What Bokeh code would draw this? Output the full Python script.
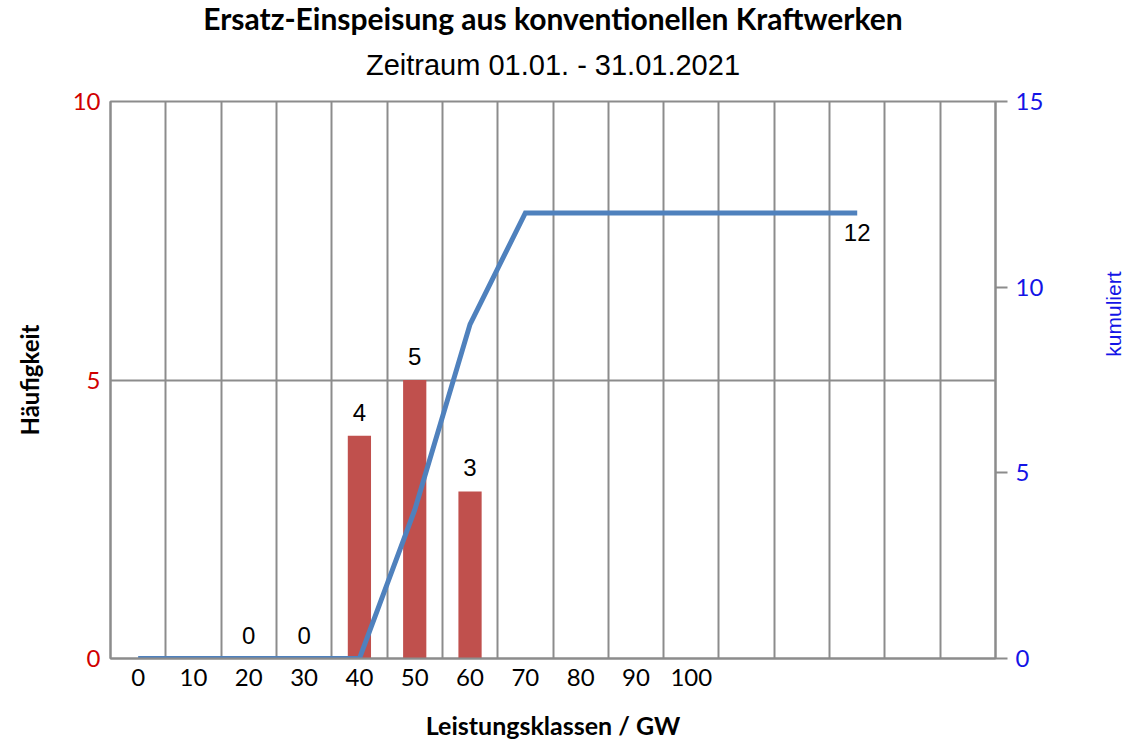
import math
from bokeh.plotting import figure
from bokeh.models import Range1d, LinearAxis, FixedTicker, ColumnDataSource, Title
from bokeh.embed import file_html
from bokeh.resources import INLINE
from bokeh.core.properties import value

# ---- data ----
title_text = "Ersatz-Einspeisung aus konventionellen Kraftwerken"
subtitle_text = "Zeitraum 01.01. - 31.01.2021"
x_title = "Leistungsklassen / GW"
y_title = "Häufigkeit"
y2_title = "kumuliert"

categories = ["0", "10", "20", "30", "40", "50", "60", "70", "80", "90", "100",
              "", "", "", "", ""]
haeufigkeit = [None, None, 0, 0, 4, 5, 3, None, None, None, None,
               None, None, None, None, None]
kumuliert = [0, 0, 0, 0, 0, 4, 9, 12, 12, 12, 12, 12, 12, 12]
y_ticks = [0, 5, 10]
y2_ticks = [0, 5, 10, 15]

# ---- styles ----
GRID = "#8C8C8C"
BAR = "#C0504D"
LINE = "#4F81BD"
RED = "#D00000"
BLUE = "#1414E6"

n = len(categories)
xpos = [i + 0.5 for i in range(n)]

p = figure(width=1139, height=743, output_backend="svg", toolbar_location=None,
           x_range=Range1d(0, n), y_range=Range1d(0, 10),
           min_border_left=110, min_border_right=144,
           min_border_top=100, min_border_bottom=85)
p.extra_y_ranges = {"cum": Range1d(0, 15)}
p.background_fill_color = "white"
p.border_fill_color = "white"
p.outline_line_color = GRID
p.outline_line_width = 2

# titles (first added is closest to plot); blank spacers tune the gaps
p.add_layout(Title(text=" ", text_font_size="1px", standoff=9), "above")
p.add_layout(Title(text=subtitle_text, align="center", text_font="Liberation Sans",
                   text_font_size="29px", text_font_style="normal",
                   text_color="black", standoff=18), "above")
p.add_layout(Title(text=" ", text_font_size="1px", standoff=2), "above")
p.add_layout(Title(text=title_text, align="center", text_font="Lato",
                   text_font_size="30px", text_font_style="bold",
                   text_color="black", standoff=-6), "above")

# grid
p.xgrid.ticker = FixedTicker(ticks=list(range(n + 1)))
p.xgrid.grid_line_color = GRID
p.xgrid.grid_line_width = 2
p.ygrid.ticker = FixedTicker(ticks=y_ticks)
p.ygrid.grid_line_color = GRID
p.ygrid.grid_line_width = 2

# bottom axis
xa = p.xaxis[0]
xa.ticker = FixedTicker(ticks=xpos)
xa.major_label_overrides = {xpos[i]: categories[i] for i in range(n)}
xa.major_tick_line_color = None
xa.minor_tick_line_color = None
xa.axis_line_color = GRID
xa.axis_line_width = 2
xa.major_label_text_font = "Lato"
xa.major_label_text_font_size = "24px"
xa.major_label_text_color = "black"
xa.major_label_standoff = 4
xa.axis_label = x_title
xa.axis_label_text_font = "Lato"
xa.axis_label_text_font_style = "bold"
xa.axis_label_text_font_size = "25px"
xa.axis_label_text_color = "black"
xa.axis_label_standoff = 21

# left axis
ya = p.yaxis[0]
ya.ticker = FixedTicker(ticks=y_ticks)
ya.major_tick_line_color = None
ya.minor_tick_line_color = None
ya.axis_line_color = GRID
ya.axis_line_width = 2
ya.major_label_text_font = "Lato"
ya.major_label_text_font_size = "24px"
ya.major_label_text_color = RED
ya.major_label_standoff = 4
ya.axis_label = y_title
ya.axis_label_text_font = "Lato"
ya.axis_label_text_font_style = "bold"
ya.axis_label_text_font_size = "24px"
ya.axis_label_text_color = "black"
ya.axis_label_standoff = 26

# right axis (title reads upwards and sits above the axis centre;
# leading no-break spaces shift the visible word upwards)
ya2 = LinearAxis(y_range_name="cum", ticker=FixedTicker(ticks=y2_ticks))
ya2.major_tick_out = 12
ya2.major_tick_in = 0
ya2.major_tick_line_color = GRID
ya2.major_tick_line_width = 2
ya2.minor_tick_line_color = None
ya2.axis_line_color = GRID
ya2.axis_line_width = 2
ya2.major_label_text_font = "Lato"
ya2.major_label_text_font_size = "24px"
ya2.major_label_text_color = BLUE
ya2.major_label_standoff = 8
ya2.axis_label = "\u00a0" * 4 + y2_title
ya2.axis_label_orientation = math.pi / 2
ya2.axis_label_text_font = "Liberation Sans"
ya2.axis_label_text_font_style = "normal"
ya2.axis_label_text_font_size = "21px"
ya2.axis_label_text_color = BLUE
ya2.axis_label_standoff = 67
p.add_layout(ya2, "right")

# bars
bx = [xpos[i] for i, v in enumerate(haeufigkeit) if v is not None]
bv = [v for v in haeufigkeit if v is not None]
bar_src = ColumnDataSource(dict(x=bx, top=bv, label=[str(v) for v in bv]))
p.vbar(x="x", top="top", width=0.42, source=bar_src,
       fill_color=BAR, line_color=None)
p.text(x="x", y="top", text="label", source=bar_src,
       text_align="center", text_baseline="bottom", y_offset=-15,
       text_font=value("Liberation Sans"), text_font_size="24px",
       text_color="black")

# cumulative line
cum_src = ColumnDataSource(dict(x=xpos[:len(kumuliert)], y=kumuliert))
p.line(x="x", y="y", source=cum_src, y_range_name="cum",
       line_color=LINE, line_width=5, line_join="miter")
last = len(kumuliert) - 1
lbl_src = ColumnDataSource(dict(x=[xpos[last]], y=[kumuliert[last]],
                                label=[str(kumuliert[last])]))
p.text(x="x", y="y", text="label", source=lbl_src, y_range_name="cum",
       text_align="center", text_baseline="top", y_offset=11,
       text_font=value("Liberation Sans"), text_font_size="24px",
       text_color="black")

open("out.html", "w").write(file_html(p, INLINE))
